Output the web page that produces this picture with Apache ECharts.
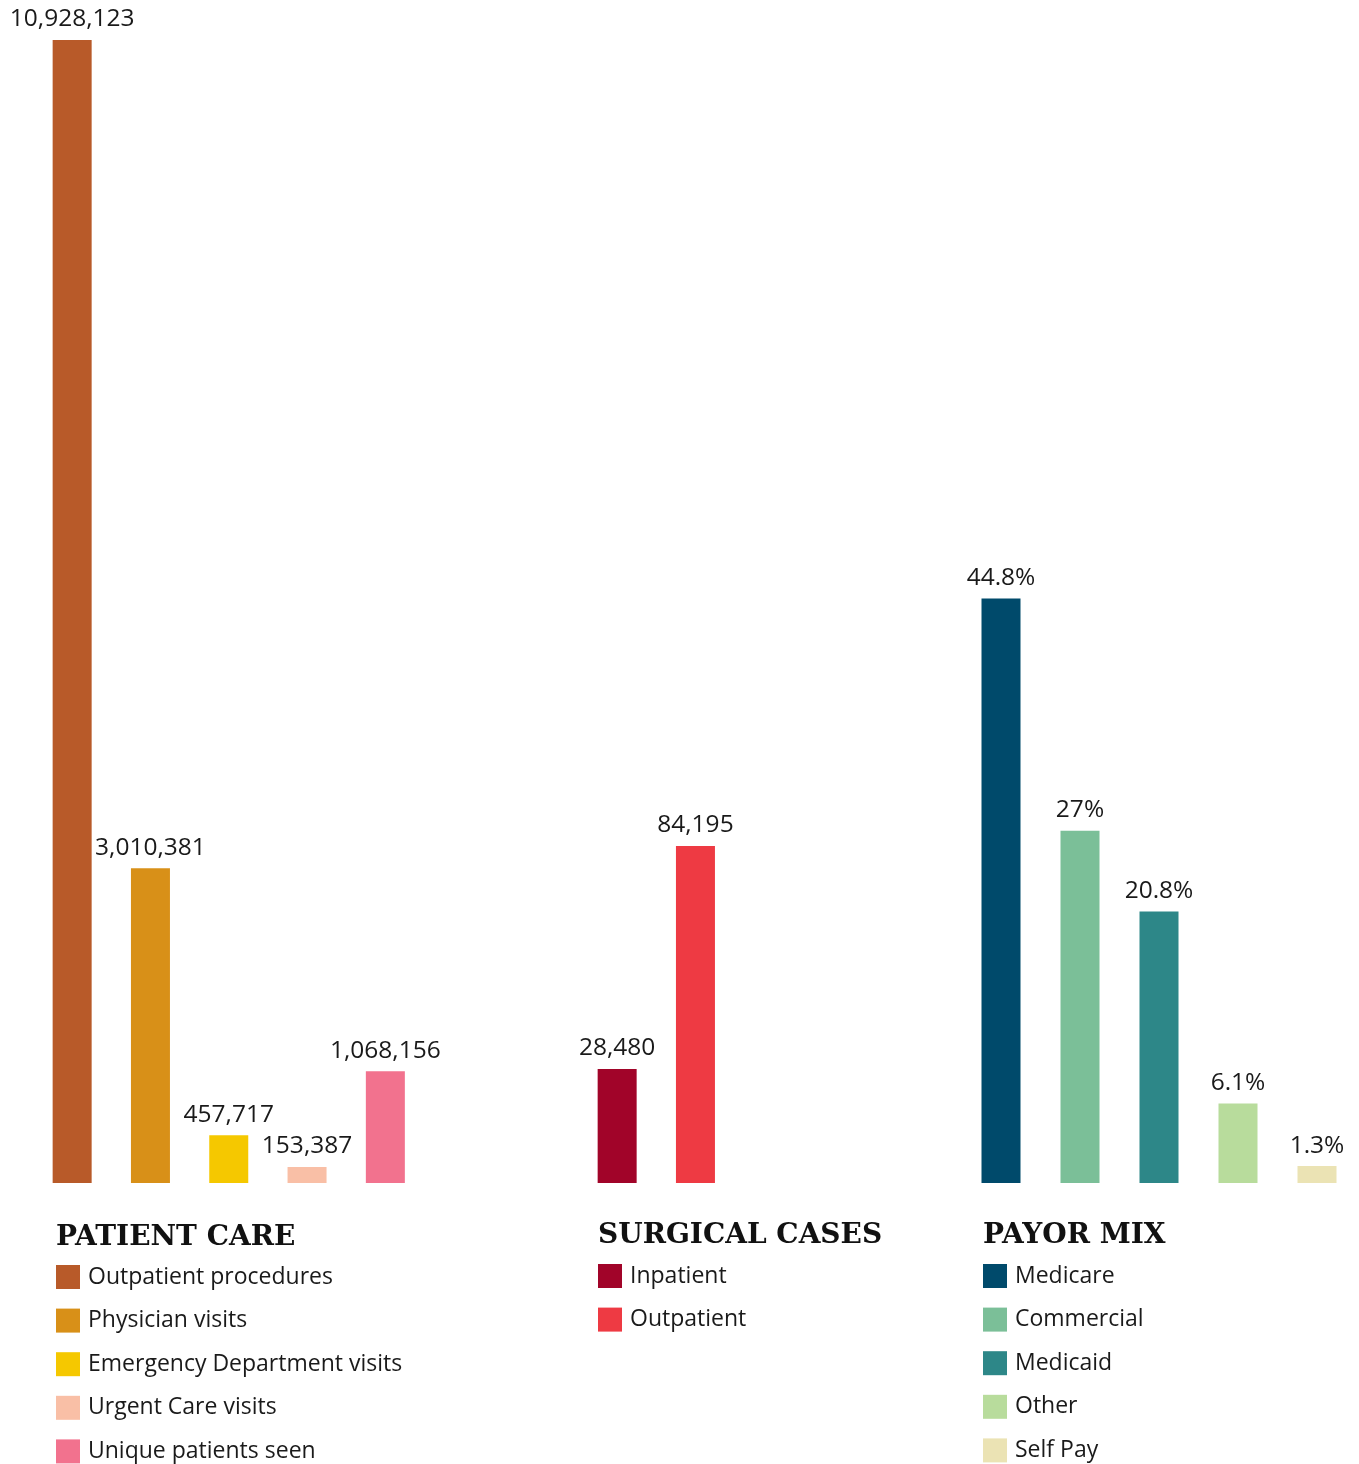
<!DOCTYPE html>
<html>
<head>
<meta charset="utf-8">
<script src="https://cdn.jsdelivr.net/npm/echarts@6/dist/echarts.min.js"></script>
<style>
html,body{margin:0;padding:0;background:#fff;}
#chart{width:1359px;height:1464px;}
</style>
</head>
<body>
<div id="chart"></div>
<script>
// ---- data ----
const patientTitle = "PATIENT CARE";
const patientCategories = ["Outpatient procedures", "Physician visits", "Emergency Department visits", "Urgent Care visits", "Unique patients seen"];
const patientValues = [10928123, 3010381, 457717, 153387, 1068156];
const patientColors = ["#B85A29", "#D89018", "#F5C800", "#F9BFA6", "#F2728E"];

const surgicalTitle = "SURGICAL CASES";
const surgicalCategories = ["Inpatient", "Outpatient"];
const surgicalValues = [28480, 84195];
const surgicalColors = ["#A10429", "#EE3A43"];

const payorTitle = "PAYOR MIX";
const payorCategories = ["Medicare", "Commercial", "Medicaid", "Other", "Self Pay"];
const payorValues = [44.8, 27, 20.8, 6.1, 1.3];
const payorColors = ["#004A6B", "#7BBF98", "#2D8788", "#B8DC9C", "#EBE3B4"];

// ---- layout ----
const gridTop = 40, gridH = 1143;
const panels = [
  {title: patientTitle, cats: patientCategories, vals: patientValues, colors: patientColors, left: 33, catW: 78.3, max: 10928123, fmt: v => v.toLocaleString('en-US'), legendX: 56, titleY: 1240, rowY: 1277},
  {title: surgicalTitle, cats: surgicalCategories, vals: surgicalValues, colors: surgicalColors, left: 578, catW: 78.3, max: 285500, fmt: v => v.toLocaleString('en-US'), legendX: 598, titleY: 1238, rowY: 1276},
  {title: payorTitle, cats: payorCategories, vals: payorValues, colors: payorColors, left: 961.5, catW: 79, max: 87.6, fmt: v => v + '%', legendX: 983, titleY: 1238, rowY: 1276}
];
const rowGap = 43.6;
const labelFont = '"Open Sans", "Noto Sans", sans-serif';

const grid = [], xAxis = [], yAxis = [], series = [], graphic = [];
panels.forEach((p, i) => {
  grid.push({left: p.left, top: gridTop, width: p.catW * p.cats.length, height: gridH});
  xAxis.push({type: 'category', gridIndex: i, data: p.cats, show: false, axisLine: {show: false}, axisTick: {show: false}, axisLabel: {show: false}});
  yAxis.push({type: 'value', gridIndex: i, min: 0, max: p.max, show: false, splitLine: {show: false}});
  series.push({
    type: 'bar', xAxisIndex: i, yAxisIndex: i, barWidth: 39,
    data: p.vals.map((v, k) => ({value: v, itemStyle: {color: p.colors[k]}})),
    label: {show: true, position: 'top', distance: 8, color: '#1a1a1a', fontSize: 24.5, fontFamily: labelFont,
      formatter: d => p.fmt(d.value)},
    animation: false
  });
  graphic.push({type: 'text', left: p.legendX, top: p.titleY - 16,
    style: {text: p.title, fill: '#111', font: 'bold 28px "DejaVu Serif", serif'}});
  p.cats.forEach((c, k) => {
    const cy = p.rowY + k * rowGap;
    graphic.push({type: 'rect', shape: {x: p.legendX, y: cy - 12, width: 24, height: 24}, style: {fill: p.colors[k]}});
    graphic.push({type: 'text', x: p.legendX + 32, y: cy, style: {text: c, fill: '#1a1a1a', font: '23px ' + labelFont, textVerticalAlign: 'middle', verticalAlign: 'middle'}});
  });
});

const chart = echarts.init(document.getElementById('chart'));
chart.setOption({animation: false, grid, xAxis, yAxis, series, graphic});
</script>
</body>
</html>
